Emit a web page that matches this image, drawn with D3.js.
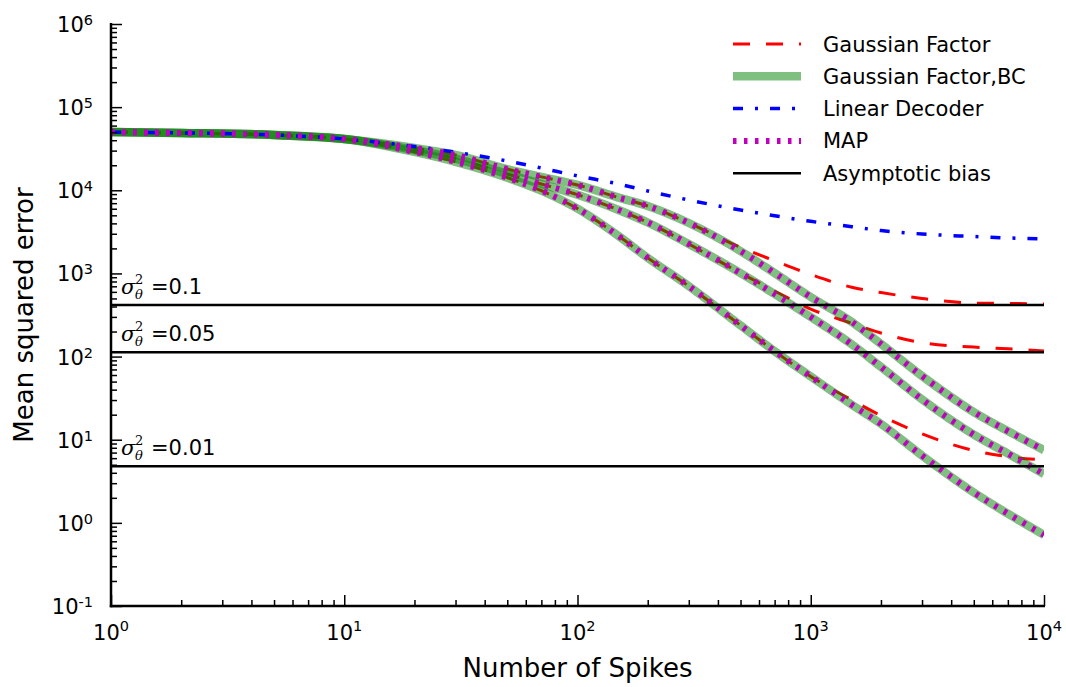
<!DOCTYPE html>
<html><head><meta charset="utf-8">
<script src="https://cdn.jsdelivr.net/npm/d3@7"></script>
<style>body{margin:0;background:#fff} text{font-family:"DejaVu Sans",sans-serif;fill:#000}</style>
</head><body><svg id="c" width="1066" height="687"></svg>
<script>
// ---- data ----
const spikes = [1,2,5,10,20,30,50,70,100,150,200,300,500,700,1000,1500,2000,3000,5000,7000,10000];
// Gaussian Factor (red dashed), per sigma
const gf_01  = [50200,48900,46300,41400,32300,26600,18000,14500,11600,8170,6470,4040,2060,1420,971,681,588,500,440,435,429];
const gf_005 = [50200,48900,46300,41400,30500,24100,15700,11900,8850,5800,4100,2260,1010,615,373,251,192,147,130,124,117];
const gf_001 = [50200,48900,46300,41400,28900,22000,14200,9890,6010,2820,1540,703,237,116,57.6,30.0,19.5,11.8,7.40,6.25,5.70];
// Gaussian Factor, BC (green)
const bc_01  = [50200,48900,46300,41400,32300,26600,18000,14500,11600,8170,6470,4040,1860,1010,521,261,142,58.4,21.5,12.7,7.5];
const bc_005 = [50200,48900,46300,41400,30500,24100,15700,11900,8850,5800,4100,2260,1010,566,299,140,75,30.5,11.5,6.8,3.87];
const bc_001 = [50200,48900,46300,41400,28900,22000,14200,9890,6010,2820,1540,703,237,116,57.6,26.3,15.5,6.44,2.32,1.29,0.715];
// MAP (magenta dotted)
const map_01  = [50200,48900,46300,41400,32300,26600,18000,14500,11600,8170,6470,4040,1860,1010,521,261,142,58.4,21.5,12.7,7.5];
const map_005 = [50200,48900,46300,41400,30500,24100,15700,11900,8850,5800,4100,2260,1010,566,299,140,75,30.5,11.5,6.8,3.87];
const map_001 = [50200,48900,46300,41400,28900,22000,14200,9890,6010,2820,1540,703,237,116,57.6,26.3,15.5,6.44,2.32,1.29,0.715];
// Linear decoder (blue dash-dot)
const linear = [50000,49000,46300,41400,33600,28700,22500,18500,14900,11900,9810,7640,5800,4940,4230,3650,3280,2980,2780,2670,2600];
// Asymptotic bias
const biasLabels = ["0.1","0.05","0.01"];
const biasValues = [417,113,4.8];
const legendLabels = ["Gaussian Factor","Gaussian Factor,BC","Linear Decoder","MAP","Asymptotic bias"];
const xTickExp = [0,1,2,3,4];
const yTickExp = [-1,0,1,2,3,4,5,6];

// ---- chart ----
const svg = d3.select("#c");
const L=111,R=1044,T=24,B=606;
const x = d3.scaleLog().domain([1,1e4]).range([L,R]);
const y = d3.scaleLog().domain([0.1,1e6]).range([B,T]);
svg.append("clipPath").attr("id","clip").append("rect").attr("x",L).attr("y",T).attr("width",R-L).attr("height",B-T);
const plot = svg.append("g").attr("clip-path","url(#clip)");
const line = d3.line().x((d,i)=>x(spikes[i])).y(d=>y(d)).curve(d3.curveMonotoneX);

const styles = {
  red:{stroke:"#ff0000",w:3,dash:"17,16",op:1},
  green:{stroke:"#008000",w:8.5,dash:null,op:0.5},
  blue:{stroke:"#0000ff",w:3.5,dash:"10,12,3,12",op:1},
  mag:{stroke:"#bf00bf",w:6,dash:"3.5,7.5",op:1},
  black:{stroke:"#000",w:2.5,dash:null,op:1}
};
function draw(data, st){
  plot.append("path").attr("d",line(data)).attr("fill","none")
    .attr("stroke",st.stroke).attr("stroke-width",st.w).attr("stroke-opacity",st.op)
    .attr("stroke-dasharray",st.dash);
}
[gf_01,gf_005,gf_001].forEach(d=>draw(d,styles.red));
[bc_01,bc_005,bc_001].forEach(d=>draw(d,styles.green));
draw(linear,styles.blue);
[map_01,map_005,map_001].forEach(d=>draw(d,styles.mag));
biasValues.forEach(v=>{
  plot.append("line").attr("x1",L).attr("x2",R).attr("y1",y(v)).attr("y2",y(v))
    .attr("stroke","#000").attr("stroke-width",styles.black.w);
});

// bias annotations
biasValues.forEach((v,i)=>{
  const g = svg.append("g").attr("transform",`translate(${L+10},${y(v)-11})`);
  g.append("text").attr("x",0).attr("y",0).style("font-family","'DejaVu Serif',serif").style("font-style","italic").style("font-size","21px").text("σ");
  g.append("text").attr("x",14).attr("y",-10).style("font-family","'DejaVu Serif',serif").style("font-size","13px").text("2");
  g.append("text").attr("x",14).attr("y",5).style("font-family","'DejaVu Serif',serif").style("font-style","italic").style("font-size","13px").text("θ");
  g.append("text").attr("x",30).attr("y",0).style("font-size","21px").text("=" + biasLabels[i]);
});

// axes
const minor = (lo,hi)=>{const a=[];for(let e=lo;e<hi;e++)for(let k=2;k<10;k++)a.push(k*Math.pow(10,e));return a;};
const ax = svg.append("g");
const yMaj = d3.axisLeft(y).tickValues(yTickExp.map(e=>Math.pow(10,e))).tickSize(-11).tickFormat("");
const yMin = d3.axisLeft(y).tickValues(minor(-1,6)).tickSize(-6).tickFormat("");
const xMaj = d3.axisBottom(x).tickValues(xTickExp.map(e=>Math.pow(10,e))).tickSize(-11).tickFormat("");
const xMin = d3.axisBottom(x).tickValues(minor(0,4)).tickSize(-6).tickFormat("");
[ [yMaj,`translate(${L},0)`],[yMin,`translate(${L},0)`],[xMaj,`translate(0,${B})`],[xMin,`translate(0,${B})`] ].forEach(([a,t])=>{
  const g = ax.append("g").attr("transform",t).call(a);
  g.selectAll(".tick line").attr("stroke","#000").attr("stroke-width",1.5);
  g.select(".domain").remove();
});
ax.append("line").attr("x1",L).attr("x2",L).attr("y1",T-1).attr("y2",B+1.25).attr("stroke","#000").attr("stroke-width",2.5);
ax.append("line").attr("x1",L-1.25).attr("x2",R+1).attr("y1",B).attr("y2",B).attr("stroke","#000").attr("stroke-width",2.5);

// tick labels
yTickExp.forEach(e=>{
  const t = ax.append("text").attr("x",L-18).attr("y",y(Math.pow(10,e))+8).attr("text-anchor","end").style("font-size","21px");
  t.append("tspan").text("10");
  t.append("tspan").attr("dy",-7).style("font-size","14.5px").text(e);
});
xTickExp.forEach(e=>{
  const t = ax.append("text").attr("x",x(Math.pow(10,e))).attr("y",B+34).attr("text-anchor","middle").style("font-size","21px");
  t.append("tspan").text("10");
  t.append("tspan").attr("dy",-9).style("font-size","14.5px").text(e);
});

// axis labels
svg.append("text").attr("x",(L+R)/2).attr("y",677).attr("text-anchor","middle").style("font-size","26px").text("Number of Spikes");
svg.append("text").attr("transform",`translate(33,${(T+B)/2}) rotate(-90)`).attr("text-anchor","middle").style("font-size","26px").text("Mean squared error");

// legend
const lg = svg.append("g");
const lkeys = [styles.red,styles.green,styles.blue,styles.mag,styles.black];
legendLabels.forEach((lab,i)=>{
  const yy = 44 + i*32.3;
  const st = lkeys[i];
  lg.append("line").attr("x1",733).attr("x2",801).attr("y1",yy).attr("y2",yy)
    .attr("stroke",st.stroke).attr("stroke-width",st.w).attr("stroke-opacity",st.op)
    .attr("stroke-dasharray",st.dash);
  lg.append("text").attr("x",823).attr("y",yy+7.5).style("font-size","21px").text(lab);
});
</script></body></html>
